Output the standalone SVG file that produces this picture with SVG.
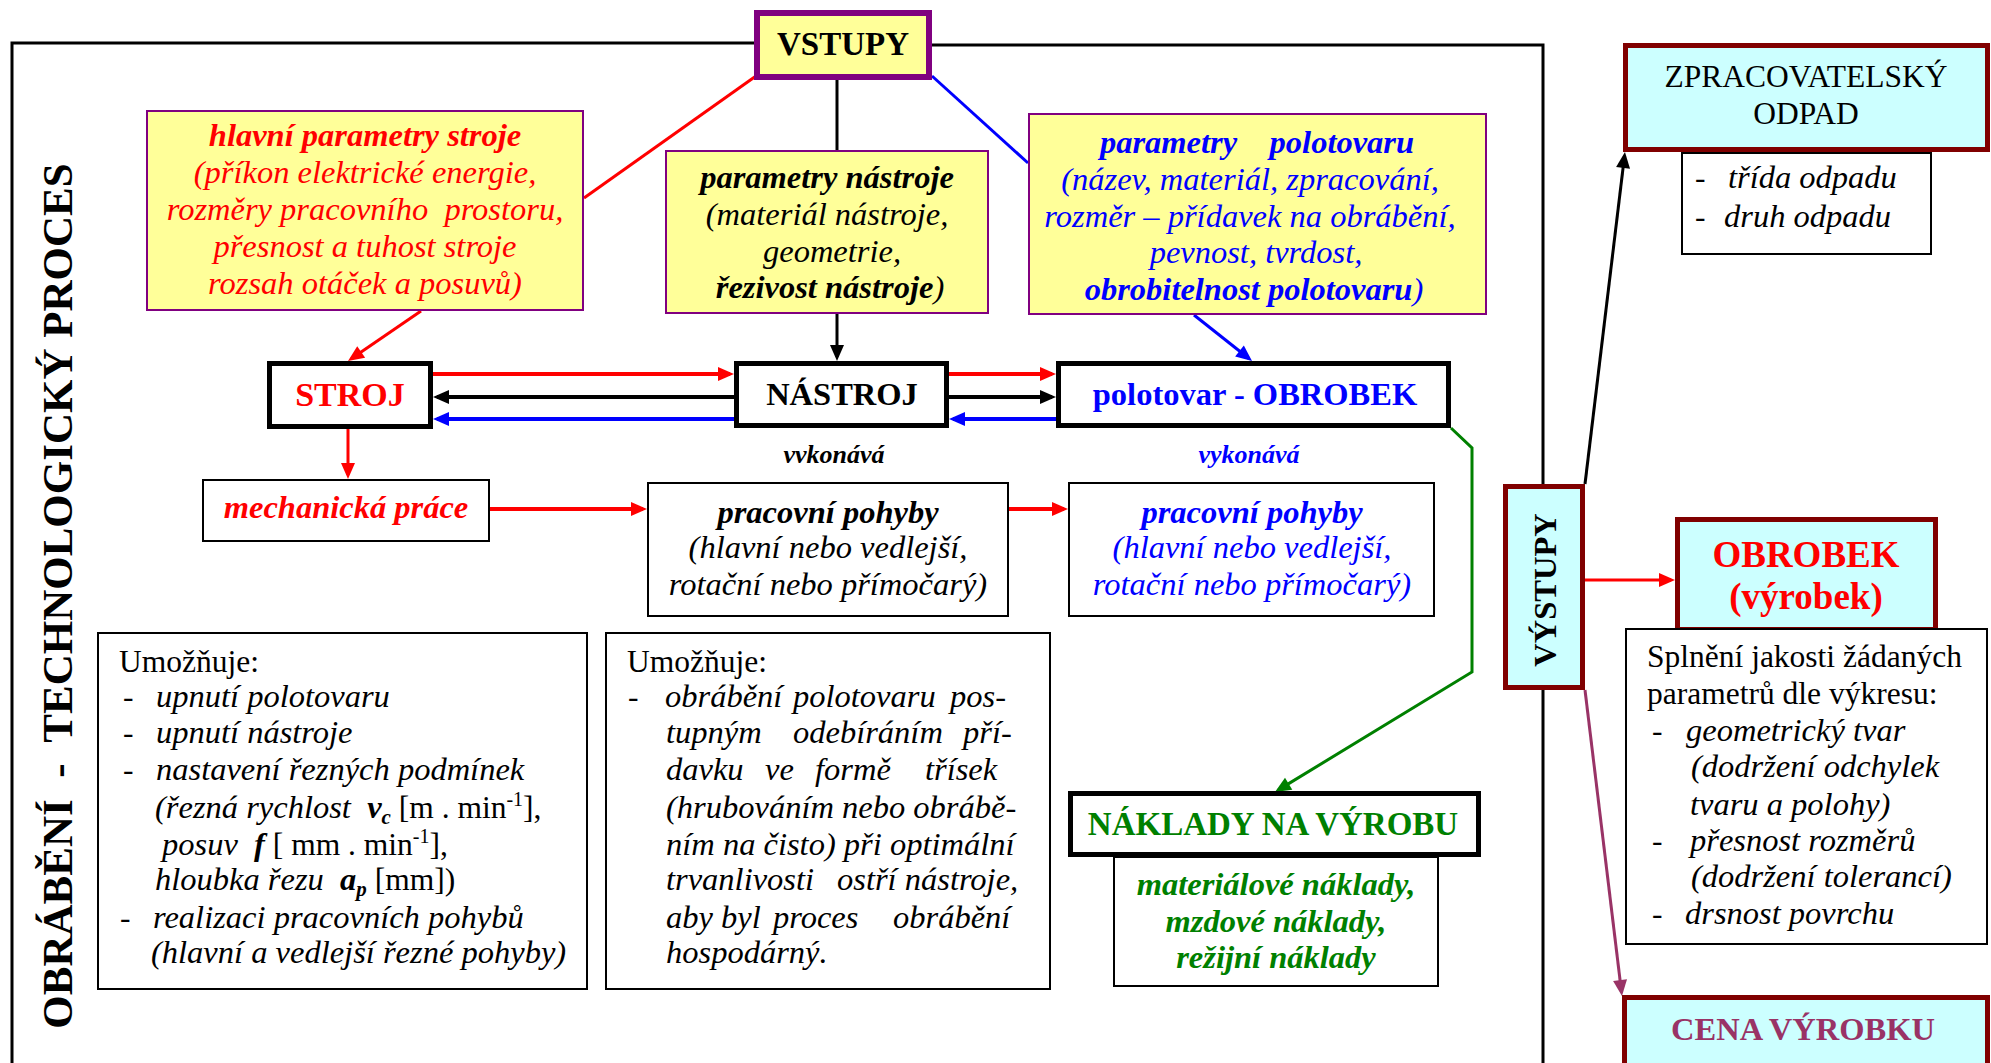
<svg xmlns="http://www.w3.org/2000/svg" width="1991" height="1063" viewBox="0 0 1991 1063">
<defs>
<style>
text{font-family:"Liberation Serif","Times New Roman",serif;font-size:31.5px;fill:#000;white-space:pre}
.b{font-weight:bold;font-size:32.5px}.i{font-style:italic;font-size:32.5px}.m{text-anchor:middle}
.r{fill:#f00}.bl{fill:#00f}.g{fill:#008000}.p{fill:#993366}
.yel{fill:#ffff99;stroke:#800080;stroke-width:2}
.box{fill:#fff;stroke:#000;stroke-width:2}
.thick{fill:#fff;stroke:#000;stroke-width:5}
.cy{fill:#ccffff;stroke:#800000;stroke-width:5}
.ln{fill:none;stroke-width:3}
.w4{stroke-width:4}
</style>
<marker id="mr" markerUnits="userSpaceOnUse" markerWidth="16" markerHeight="14" refX="12" refY="7" orient="auto" overflow="visible"><path d="M0,0L16,7L0,14z" fill="#f00"/></marker>
<marker id="mk" markerUnits="userSpaceOnUse" markerWidth="16" markerHeight="14" refX="12" refY="7" orient="auto" overflow="visible"><path d="M0,0L16,7L0,14z" fill="#000"/></marker>
<marker id="mb" markerUnits="userSpaceOnUse" markerWidth="16" markerHeight="14" refX="12" refY="7" orient="auto" overflow="visible"><path d="M0,0L16,7L0,14z" fill="#00f"/></marker>
<marker id="mg" markerUnits="userSpaceOnUse" markerWidth="16" markerHeight="14" refX="12" refY="7" orient="auto" overflow="visible"><path d="M0,0L16,7L0,14z" fill="#008000"/></marker>
<marker id="mp" markerUnits="userSpaceOnUse" markerWidth="16" markerHeight="14" refX="12" refY="7" orient="auto" overflow="visible"><path d="M0,0L16,7L0,14z" fill="#993366"/></marker>
</defs>
<rect width="1991" height="1063" fill="#fff"/>

<g id="process-frame">
<path d="M12,1063V43H756M930,45H1543V1063" fill="none" stroke="#000" stroke-width="3"/>
<text class="b m" style="font-size:43px" transform="translate(72,596) rotate(-90)">OBRÁBĚNÍ  -  TECHNOLOGICKÝ PROCES</text>
</g>

<g id="connectors">
<path class="ln" stroke="#f00" d="M756,76L584,198"/>
<path class="ln" stroke="#000" d="M837,80V150"/>
<path class="ln" stroke="#00f" d="M932,76L1028,163"/>
<path class="ln" stroke="#f00" d="M421,311L351.3,358.7" marker-end="url(#mr)"/>
<path class="ln" stroke="#000" d="M837,314V357" marker-end="url(#mk)"/>
<path class="ln" stroke="#00f" d="M1194,315L1248.9,358.5" marker-end="url(#mb)"/>
<path class="ln w4" stroke="#f00" d="M433,374H730" marker-end="url(#mr)"/>
<path class="ln w4" stroke="#000" d="M734,397H437" marker-end="url(#mk)"/>
<path class="ln w4" stroke="#00f" d="M734,419H437" marker-end="url(#mb)"/>
<path class="ln w4" stroke="#f00" d="M949,374H1052" marker-end="url(#mr)"/>
<path class="ln w4" stroke="#000" d="M949,397H1052" marker-end="url(#mk)"/>
<path class="ln w4" stroke="#00f" d="M1056,419H953" marker-end="url(#mb)"/>
<path class="ln" stroke="#f00" d="M348,429V475" marker-end="url(#mr)"/>
<path class="ln w4" stroke="#f00" d="M490,509H643" marker-end="url(#mr)"/>
<path class="ln w4" stroke="#f00" d="M1009,509H1064" marker-end="url(#mr)"/>
<path class="ln" stroke="#008000" d="M1451,428L1472,448V672L1278.4,789.9" marker-end="url(#mg)"/>
<path class="ln" stroke="#000" d="M1585,484L1624.5,156" marker-end="url(#mk)"/>
<path class="ln" stroke="#f00" d="M1585,580H1671" marker-end="url(#mr)"/>
<path class="ln" stroke="#993366" d="M1585,690L1621.5,992" marker-end="url(#mp)"/>
</g>

<g id="vstupy">
<rect x="757" y="13" width="172" height="64" fill="#ffff99" stroke="#800080" stroke-width="6"/>
<text class="b m" x="843" y="55" style="font-size:33px">VSTUPY</text>
</g>

<g id="hlavni-parametry">
<rect class="yel" x="147" y="111" width="436" height="199"/>
<text class="b i m r" x="365" y="146">hlavní parametry stroje</text>
<text class="i m r" x="365" y="183">(příkon elektrické energie,</text>
<text class="i m r" x="365" y="220">rozměry pracovního  prostoru,</text>
<text class="i m r" x="365" y="257">přesnost a tuhost stroje</text>
<text class="i m r" x="365" y="294">rozsah otáček a posuvů)</text>
</g>

<g id="parametry-nastroje">
<rect class="yel" x="666" y="151" width="322" height="162"/>
<text class="b i m" x="827" y="188">parametry nástroje</text>
<text class="i m" x="827" y="225">(materiál nástroje,</text>
<text class="i m" x="832" y="262">geometrie,</text>
<text class="i m" x="830" y="298"><tspan class="b">řezivost nástroje</tspan>)</text>
</g>

<g id="parametry-polotovaru">
<rect class="yel" x="1029" y="114" width="457" height="200"/>
<text class="b i m bl" x="1257" y="153">parametry    polotovaru</text>
<text class="i m bl" x="1250" y="190">(název, materiál, zpracování,</text>
<text class="i m bl" x="1250" y="227">rozměr – přídavek na obrábění,</text>
<text class="i m bl" x="1256" y="263">pevnost, tvrdost,</text>
<text class="i m bl" x="1254" y="300"><tspan class="b">obrobitelnost polotovaru</tspan>)</text>
</g>

<g id="stroj">
<rect class="thick" x="269.5" y="363.5" width="161" height="63"/>
<text class="b m r" x="350" y="406" style="font-size:34px">STROJ</text>
</g>

<g id="nastroj">
<rect class="thick" x="736.5" y="363.5" width="210" height="62"/>
<text class="b m" x="842" y="405">NÁSTROJ</text>
</g>

<g id="polotovar-obrobek">
<rect class="thick" x="1058.5" y="363.5" width="390" height="62"/>
<text class="b m bl" x="1255" y="405">polotovar - OBROBEK</text>
</g>

<g id="labels">
<text class="b i m" x="834" y="463" style="font-size:26px">vvkonává</text>
<text class="b i m bl" x="1249" y="463" style="font-size:26px">vykonává</text>
</g>

<g id="mechanicka-prace">
<rect class="box" x="203" y="480" width="286" height="61"/>
<text class="b i m r" x="346" y="518">mechanická práce</text>
</g>

<g id="pracovni-pohyby-nastroj">
<rect class="box" x="648" y="483" width="360" height="133"/>
<text class="b i m" x="828" y="523">pracovní pohyby</text>
<text class="i m" x="828" y="558">(hlavní nebo vedlejší,</text>
<text class="i m" x="828" y="595">rotační nebo přímočarý)</text>
</g>

<g id="pracovni-pohyby-obrobek">
<rect class="box" x="1069" y="483" width="365" height="133"/>
<text class="b i m bl" x="1252" y="523">pracovní pohyby</text>
<text class="i m bl" x="1252" y="558">(hlavní nebo vedlejší,</text>
<text class="i m bl" x="1252" y="595">rotační nebo přímočarý)</text>
</g>

<g id="umoznuje-stroj">
<rect class="box" x="98" y="633" width="489" height="356"/>
<text x="119" y="672">Umožňuje:</text>
<text x="123" y="707">-</text><text class="i" x="156" y="707">upnutí polotovaru</text>
<text x="123" y="743">-</text><text class="i" x="156" y="743">upnutí nástroje</text>
<text x="123" y="780">-</text><text class="i" x="156" y="780">nastavení řezných podmínek</text>
<text x="155" y="818"><tspan class="i">(řezná rychlost  </tspan><tspan class="b i">v</tspan><tspan class="b i" style="font-size:21px" dy="6">c</tspan><tspan dy="-6"> [m . min</tspan><tspan style="font-size:20px" dy="-12">-1</tspan><tspan dy="12">],</tspan></text>
<text x="162" y="855"><tspan class="i">posuv  </tspan><tspan class="b i">f</tspan><tspan> [ mm . min</tspan><tspan style="font-size:20px" dy="-12">-1</tspan><tspan dy="12">],</tspan></text>
<text x="155" y="890"><tspan class="i">hloubka řezu  </tspan><tspan class="b i">a</tspan><tspan class="b i" style="font-size:21px" dy="6">p</tspan><tspan dy="-6"> [mm])</tspan></text>
<text x="120" y="928">-</text><text class="i" x="153" y="928">realizaci pracovních pohybů</text>
<text class="i" x="151" y="963">(hlavní a vedlejší řezné pohyby)</text>
</g>

<g id="umoznuje-nastroj">
<rect class="box" x="606" y="633" width="444" height="356"/>
<text x="627" y="672">Umožňuje:</text>
<text x="628" y="707">-</text>
<text class="i" y="707"><tspan x="665">obrábění</tspan><tspan x="793">polotovaru</tspan><tspan x="950">pos-</tspan></text>
<text class="i" y="743"><tspan x="666">tupným</tspan><tspan x="793">odebíráním</tspan><tspan x="963">pří-</tspan></text>
<text class="i" y="780"><tspan x="666">davku</tspan><tspan x="765">ve</tspan><tspan x="815">formě</tspan><tspan x="925">třísek</tspan></text>
<text class="i" x="666" y="818">(hrubováním nebo obrábě-</text>
<text class="i" x="666" y="855">ním na čisto) při optimální</text>
<text class="i" y="890"><tspan x="666">trvanlivosti</tspan><tspan x="837">ostří nástroje,</tspan></text>
<text class="i" y="928"><tspan x="666">aby byl</tspan><tspan x="773">proces</tspan><tspan x="893">obrábění</tspan></text>
<text class="i" x="666" y="963">hospodárný.</text>
</g>

<g id="naklady">
<rect class="thick" x="1070.5" y="793.5" width="408" height="61"/>
<text class="b m g" x="1273" y="835" style="font-size:33px">NÁKLADY NA VÝROBU</text>
</g>

<g id="naklady-druhy">
<rect class="box" x="1114" y="857" width="324" height="129"/>
<text class="b i m g" x="1276" y="895">materiálové náklady,</text>
<text class="b i m g" x="1276" y="932">mzdové náklady,</text>
<text class="b i m g" x="1276" y="968">režijní náklady</text>
</g>

<g id="vystupy">
<rect class="cy" x="1505.5" y="486.5" width="77" height="201"/>
<text class="b m" transform="translate(1556,590) rotate(-90)">VÝSTUPY</text>
</g>

<g id="zpracovatelsky-odpad">
<rect class="cy" x="1625.5" y="45.5" width="362" height="104"/>
<text class="m" x="1806" y="87">ZPRACOVATELSKÝ</text>
<text class="m" x="1806" y="124">ODPAD</text>
</g>

<g id="odpad-detail">
<rect class="box" x="1682" y="153" width="249" height="101"/>
<text x="1695" y="188">-</text><text class="i" x="1728" y="188">třída odpadu</text>
<text x="1695" y="227">-</text><text class="i" x="1724" y="227">druh odpadu</text>
</g>

<g id="obrobek">
<rect class="cy" x="1677.5" y="519.5" width="258" height="110"/>
<text class="b m r" x="1806" y="567" style="font-size:37px">OBROBEK</text>
<text class="b m r" x="1806" y="609" style="font-size:37px">(výrobek)</text>
</g>

<g id="obrobek-detail">
<rect class="box" x="1626" y="629" width="361" height="315"/>
<text x="1647" y="667">Splnění jakosti žádaných</text>
<text x="1647" y="704">parametrů dle výkresu:</text>
<text x="1652" y="741">-</text><text class="i" x="1686" y="741">geometrický tvar</text>
<text class="i" x="1691" y="777">(dodržení odchylek</text>
<text class="i" x="1690" y="815">tvaru a polohy)</text>
<text x="1652" y="851">-</text><text class="i" x="1690" y="851">přesnost rozměrů</text>
<text class="i" x="1691" y="887">(dodržení tolerancí)</text>
<text x="1652" y="924">-</text><text class="i" x="1685" y="924">drsnost povrchu</text>
</g>

<g id="cena-vyrobku">
<rect class="cy" x="1624.5" y="997.5" width="363" height="80"/>
<text class="b m p" x="1803" y="1040">CENA VÝROBKU</text>
</g>
</svg>
